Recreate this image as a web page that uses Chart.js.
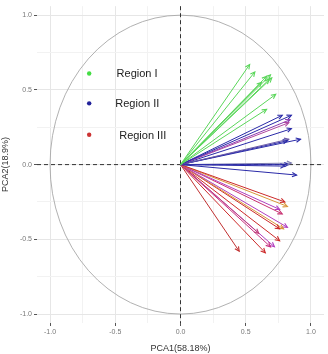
<!DOCTYPE html>
<html>
<head>
<meta charset="utf-8">
<script src="https://cdn.jsdelivr.net/npm/chart.js@4/dist/chart.umd.min.js"></script>
<style>
  html, body { margin: 0; padding: 0; background: #fff; }
</style>
</head>
<body>
<canvas id="pcaChart" width="328" height="354"></canvas>
<script>
// loadings on the first two components, one arrow per variable
const regionI_pc1 = [0.53, 0.57, 0.66, 0.69, 0.70, 0.68, 0.62, 0.73, 0.66];
const regionI_pc2 = [0.67, 0.62, 0.59, 0.60, 0.58, 0.57, 0.55, 0.47, 0.37];

const regionII_pc1 = [0.78, 0.85, 0.84, 0.83, 0.85, 0.83, 0.92, 0.82, 0.83, 0.85, 0.80, 0.89];
const regionII_pc2 = [0.33, 0.33, 0.30, 0.28, 0.24, 0.17, 0.17, 0.16, 0.00, 0.01, -0.01, -0.07];
const regionII_cols = ['#2a2aa8', '#2a2aa8', '#8a3cb0', '#b04aa0', '#2a2aa8', '#6a5aa8', '#2a2aa8',
                       '#2a2aa8', '#2a2aa8', '#7a7ab0', '#2a2aa8', '#2a2aa8'];

const regionIII_pc1 = [0.80, 0.82, 0.76, 0.78, 0.82, 0.79, 0.76, 0.60, 0.76, 0.72, 0.69, 0.65, 0.45];
const regionIII_pc2 = [-0.25, -0.28, -0.30, -0.33, -0.42, -0.43, -0.43, -0.46, -0.51, -0.55, -0.55, -0.59, -0.58];
const regionIII_cols = ['#cc2a2a', '#d8963a', '#b040c0', '#c83070', '#b040c0', '#d8963a', '#cc2a2a',
                        '#c0407a', '#cc2a2a', '#b040c0', '#c83080', '#cc2a2a', '#c03030'];

// legend entries
const legendNames = ['Region I', 'Region II', 'Region III'];
const legendCols = ['#44dd44', '#22229a', '#cc3333'];
const legendDotX = [-0.70, -0.70, -0.70];
const legendDotY = [0.61, 0.41, 0.20];
const legendTextX = [-0.49, -0.50, -0.47];

const majorTicks = [-1.0, -0.5, 0.0, 0.5, 1.0];
const gridTicks = [-1.0, -0.75, -0.5, -0.25, 0.0, 0.25, 0.5, 0.75, 1.0];

const datasets = [];
function addArrows(xs, ys, cols) {
    xs.forEach((x, i) => {
        const c = Array.isArray(cols) ? cols[i] : cols;
        datasets.push({
            data: [{x: 0, y: 0}, {x: x, y: ys[i]}],
            showLine: true,
            borderColor: c,
            backgroundColor: c,
            borderWidth: 1,
            pointRadius: 0,
            arrow: true
        });
    });
}
addArrows(regionI_pc1, regionI_pc2, '#5ad65a');
addArrows(regionII_pc1, regionII_pc2, regionII_cols);
addArrows(regionIII_pc1, regionIII_pc2, regionIII_cols);

datasets.push({
    data: legendDotX.map((x, i) => ({x: x, y: legendDotY[i]})),
    pointRadius: 2.2,
    pointBackgroundColor: legendCols,
    pointBorderWidth: 0,
    isLegend: true
});

// unit circle and dashed zero lines behind the arrows
const backdrop = {
    id: 'backdrop',
    beforeDatasetsDraw(chart) {
        const {ctx, chartArea, scales: {x, y}} = chart;
        const cx = x.getPixelForValue(0), cy = y.getPixelForValue(0);
        const rx = x.getPixelForValue(1) - cx, ry = cy - y.getPixelForValue(1);
        ctx.save();
        ctx.strokeStyle = '#a8a8a8';
        ctx.lineWidth = 0.9;
        ctx.beginPath();
        ctx.ellipse(cx, cy, rx, ry, 0, 0, Math.PI * 2);
        ctx.stroke();

        ctx.strokeStyle = '#333';
        ctx.lineWidth = 1;
        ctx.setLineDash([4, 3]);
        ctx.beginPath();
        ctx.moveTo(chartArea.left, cy);
        ctx.lineTo(chartArea.right, cy);
        ctx.moveTo(cx, chartArea.top);
        ctx.lineTo(cx, chartArea.bottom);
        ctx.stroke();
        ctx.restore();
    }
};

// arrowheads at the tip of each loading, plus legend text
const arrowHeads = {
    id: 'arrowHeads',
    afterDatasetsDraw(chart) {
        const {ctx, scales: {x, y}} = chart;
        ctx.save();
        chart.data.datasets.forEach((ds, i) => {
            if (!ds.arrow) return;
            const pts = chart.getDatasetMeta(i).data;
            const a = pts[0], b = pts[1];
            const ang = Math.atan2(b.y - a.y, b.x - a.x);
            const len = 5;
            ctx.strokeStyle = ds.borderColor;
            ctx.lineWidth = 1.1;
            ctx.beginPath();
            ctx.moveTo(b.x - len * Math.cos(ang - 0.45), b.y - len * Math.sin(ang - 0.45));
            ctx.lineTo(b.x, b.y);
            ctx.lineTo(b.x - len * Math.cos(ang + 0.45), b.y - len * Math.sin(ang + 0.45));
            ctx.stroke();
        });
        ctx.fillStyle = '#222';
        ctx.font = '11px "Liberation Sans", Arial, sans-serif';
        ctx.textBaseline = 'middle';
        legendNames.forEach((n, i) => {
            ctx.fillText(n, x.getPixelForValue(legendTextX[i]), y.getPixelForValue(legendDotY[i]) + 1);
        });
        ctx.restore();
    }
};

function axisTicks(axis) {
    axis.ticks = gridTicks.map(v => ({value: v}));
}
function isMajor(v) {
    return majorTicks.some(m => Math.abs(m - v) < 1e-6);
}
const tickFont = {family: '"Liberation Sans", Arial, sans-serif', size: 7};

new Chart(document.getElementById('pcaChart'), {
    type: 'scatter',
    data: {datasets: datasets},
    options: {
        responsive: false,
        animation: false,
        layout: {padding: {top: 0, right: 3, left: 0, bottom: 0}},
        plugins: {legend: {display: false}, tooltip: {enabled: false}},
        scales: {
            x: {
                min: -1.1, max: 1.1,
                afterBuildTicks: axisTicks,
                afterFit: axis => { axis.height = 31; },
                border: {display: false},
                grid: {
                    color: c => isMajor(c.tick.value) ? '#e6e6e6' : '#f2f2f2',
                    tickColor: c => isMajor(c.tick.value) ? '#555' : 'rgba(0,0,0,0)',
                    tickLength: 3
                },
                ticks: {
                    color: '#777', font: tickFont, padding: 2, autoSkip: false, maxRotation: 0,
                    callback: v => isMajor(v) ? v.toFixed(1) : ''
                },
                title: {
                    display: true, text: 'PCA1(58.18%)', color: '#333',
                    font: {family: '"Liberation Sans", Arial, sans-serif', size: 9},
                    padding: {top: 1, bottom: 0}
                }
            },
            y: {
                min: -1.06, max: 1.06,
                afterBuildTicks: axisTicks,
                afterFit: axis => { axis.width = 37; },
                border: {display: false},
                grid: {
                    color: c => isMajor(c.tick.value) ? '#e6e6e6' : '#f2f2f2',
                    tickColor: c => isMajor(c.tick.value) ? '#555' : 'rgba(0,0,0,0)',
                    tickLength: 3
                },
                ticks: {
                    color: '#777', font: tickFont, padding: 2, autoSkip: false,
                    callback: v => isMajor(v) ? v.toFixed(1) : ''
                },
                title: {
                    display: true, text: 'PCA2(18.9%)', color: '#333',
                    font: {family: '"Liberation Sans", Arial, sans-serif', size: 9},
                    padding: {top: 0, bottom: 4}
                }
            }
        }
    },
    plugins: [backdrop, arrowHeads]
});
</script>
</body>
</html>
